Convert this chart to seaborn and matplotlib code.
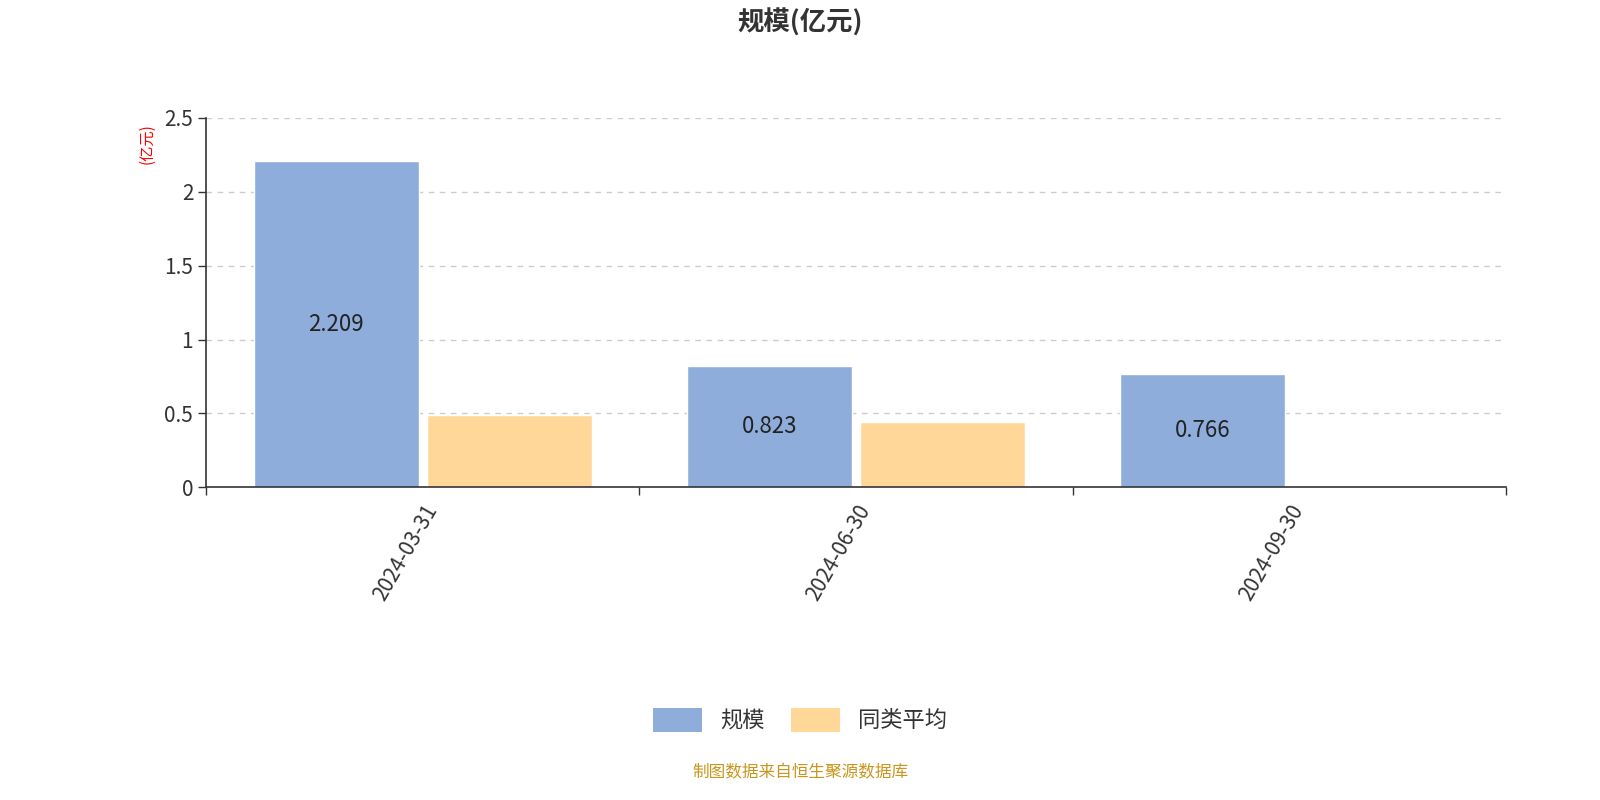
import matplotlib
matplotlib.use("Agg")
import matplotlib.pyplot as plt
import seaborn as sns
import pandas as pd
import numpy as np

dates = ['2024-03-31', '2024-06-30', '2024-09-30']
scale = [2.209, 0.823, 0.766]
peer_avg = [0.49, 0.44, np.nan]
series_names = ['规模', '同类平均']
colors = ['#8eaddb', '#ffd899']

sns.set_theme(style='white')
plt.rcParams['font.family'] = ['Noto Sans CJK SC', 'DejaVu Sans']

df = pd.DataFrame({
    'date': dates * 2,
    'value': scale + peer_avg,
    'series': [series_names[0]] * 3 + [series_names[1]] * 3,
})

fig = plt.figure(figsize=(16, 8), dpi=100)
ax = fig.add_axes([0.129, 0.391, 0.812, 0.4615])
sns.barplot(data=df, x='date', y='value', hue='series', palette=colors,
            width=0.8, gap=0.05, ax=ax, legend=False, saturation=1)

ax.set_ylim(0, 2.5)
ax.set_xlim(-0.5, 2.5)
ax.set_yticks([0, 0.5, 1, 1.5, 2, 2.5])
ax.set_yticklabels(['0', '0.5', '1', '1.5', '2', '2.5'], fontsize=15, color='#333333')
ax.tick_params(axis='y', length=6, width=1, color='#333333', direction='out', left=True)
for y in [0.5, 1, 1.5, 2, 2.5]:
    ax.axhline(y, color='#cccccc', linestyle=(0, (4, 4)), linewidth=1, zorder=0)

# category boundaries as tick marks, labels at centers
ax.set_xticks([-0.5, 0.5, 1.5, 2.5])
ax.set_xticklabels([])
ax.tick_params(axis='x', which='major', length=6, width=1, color='#333333', bottom=True)
ax.set_xticks([0, 1, 2], minor=True)
ax.set_xticklabels(dates, minor=True, rotation=60, ha='right', rotation_mode='anchor',
                   fontsize=15, color='#333333')
ax.tick_params(axis='x', which='minor', length=0, pad=10)
ax.set_xlabel('')
ax.set_ylabel('')

for s in ['top', 'right']:
    ax.spines[s].set_visible(False)
for s in ['left', 'bottom']:
    ax.spines[s].set_color('#333333')
    ax.spines[s].set_linewidth(1.2)

# value labels on the 规模 bars
for bar, v in zip(ax.containers[0], scale):
    ax.text(bar.get_x() + bar.get_width() / 2, v / 2, f'{v:.3f}',
            ha='center', va='center', fontsize=16, color='#222222')

fig.text(0.092, 0.82, '(亿元)', rotation=90, color='red', fontsize=11, ha='center', va='center')
fig.text(0.5, 0.972, '规模(亿元)', ha='center', va='center', fontsize=19,
         fontweight='bold', color='#333333')

from matplotlib.patches import FancyBboxPatch
handles = [FancyBboxPatch((0, 0), 1, 1, boxstyle='round,pad=0.1', facecolor=c, edgecolor='none')
           for c in colors]
fig.legend(handles, series_names, loc='center', bbox_to_anchor=(0.5, 0.1),
           ncol=2, frameon=False, fontsize=16, handlelength=2.2, handleheight=1.3,
           columnspacing=1.2, labelcolor='#333333')

fig.text(0.5, 0.034, '制图数据来自恒生聚源数据库', ha='center', va='center',
         fontsize=12, color='#c8961e')

fig.savefig('out.png', dpi=100)
